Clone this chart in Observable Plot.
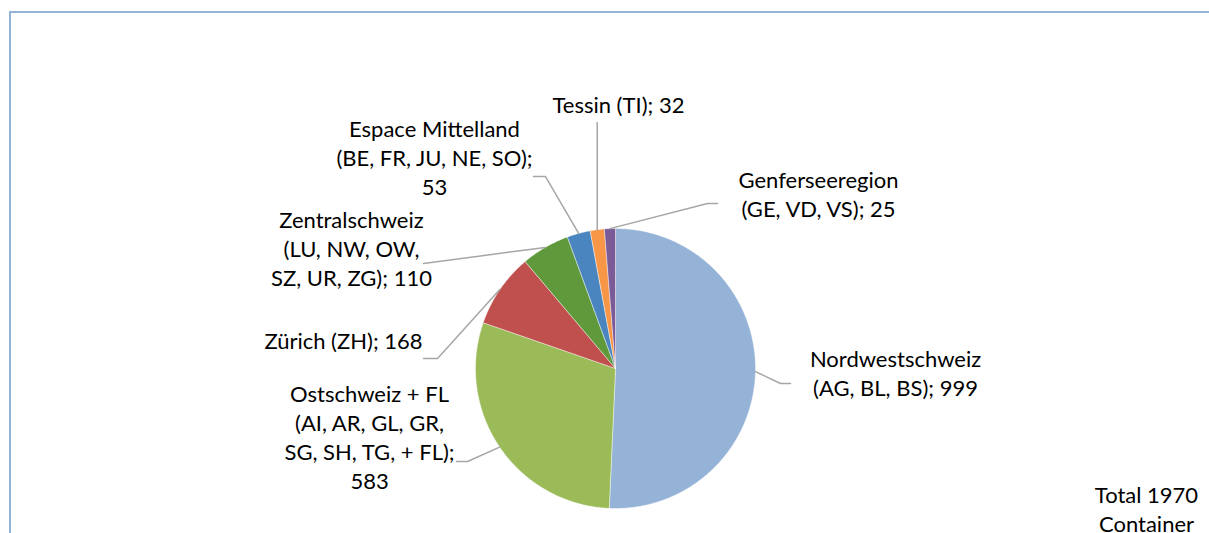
<!DOCTYPE html>
<html><head><meta charset="utf-8">
<script src="https://cdn.jsdelivr.net/npm/d3@7"></script>
<script src="https://cdn.jsdelivr.net/npm/@observablehq/plot@0.6"></script>
<style>
html,body{margin:0;padding:0;background:#fff;overflow:hidden;}
#wrap{position:relative;width:1209px;height:533px;overflow:hidden;}
#border{position:absolute;left:9px;top:11px;width:1400px;height:800px;border:2px solid #95B3D7;box-sizing:border-box;}
#chart{position:absolute;left:0;top:0;}
</style></head><body>
<div id="wrap"><div id="border"></div><div id="chart"></div></div>
<script>
// ---- data ----
const regions = [
  "Nordwestschweiz\n(AG, BL, BS)",
  "Ostschweiz + FL\n(AI, AR, GL, GR,\nSG, SH, TG, + FL)",
  "Zürich (ZH)",
  "Zentralschweiz\n(LU, NW, OW,\nSZ, UR, ZG)",
  "Espace Mittelland\n(BE, FR, JU, NE, SO)",
  "Tessin (TI)",
  "Genferseeregion\n(GE, VD, VS)"
];
const containers = [999, 583, 168, 110, 53, 32, 25];
const colors = ["#95B3D7", "#9BBB59", "#C0504D", "#5F993C", "#4A85BF", "#F79646", "#7A5B98"];
const totalWords = ["Total", "Container"];

// ---- layout (pie radius units, y up) ----
const valueSep = [" ", "\n", " ", " ", "\n", " ", " "];
const labelAt = [[2.0,-0.025],[-1.757,-0.482],[-1.943,0.205],[-1.886,0.862],[-1.293,1.512],[0.021,1.89],[1.45,1.255]];
const elbows = [
  [[1.179,-0.107],[1.25,-0.107]],
  [[-1.057,-0.664],[-1.136,-0.664]],
  [[-1.271,0.071],[-1.371,0.071]],
  [[-1.371,0.75]],
  [[-0.5,1.371],[-0.586,1.371]],
  [[null,1.757]],
  [[0.657,1.179],[0.729,1.179]]
];
const W = 1209, H = 533, R = 140, CX = 615, CY = 368;

const arcs = d3.pie().sort(null).startAngle(0).endAngle(2*Math.PI)(containers);
const slices = arcs.map((a, i) => {
  const pts = [{x:0, y:0}];
  const n = Math.max(2, Math.ceil((a.endAngle - a.startAngle) / (Math.PI/360)));
  for (let k = 0; k <= n; k++) {
    const t = a.startAngle + (a.endAngle - a.startAngle) * k / n;
    pts.push({x: Math.sin(t), y: Math.cos(t)});
  }
  pts.push({x:0, y:0});
  return {pts, color: colors[i]};
});

const leaders = [];
arcs.forEach((a, i) => {
  const m = (a.startAngle + a.endAngle) / 2;
  const ex = Math.sin(m), ey = Math.cos(m);
  leaders.push({i, x: ex, y: ey});
  elbows[i].forEach(([px, py]) => leaders.push({i, x: px == null ? ex : px, y: py}));
});

const labels = regions.map((r, i) => ({
  text: `${r};${valueSep[i]}${containers[i]}`,
  x: labelAt[i][0], y: labelAt[i][1]
}));

const total = d3.sum(containers);

const chart = Plot.plot({
  width: W, height: H,
  margin: 0,
  x: {domain: [-CX/R, (W-CX)/R], axis: null},
  y: {domain: [-(H-CY)/R, CY/R], axis: null},
  style: {fontFamily: "Lato, sans-serif", background: "transparent"},
  marks: [
    ...slices.map(s => Plot.line(s.pts, {x: "x", y: "y", fill: s.color, stroke: "#ffffff", strokeWidth: 0.6, strokeOpacity: 0.7, curve: "linear"})),
    Plot.line(leaders, {x: "x", y: "y", z: "i", stroke: "#A6A6A6", strokeWidth: 1.5}),
    Plot.text(labels, {x: "x", y: "y", text: "text", fontSize: 22, lineHeight: 1.32, fill: "#000", lineAnchor: "middle", textAnchor: "middle"}),
    Plot.text([`${totalWords[0]} ${total}\n${totalWords[1]}`], {frameAnchor: "bottom-right", dx: -63, dy: -25, fontSize: 22, lineHeight: 1.32, fill: "#000", lineAnchor: "middle", textAnchor: "middle"})
  ]
});
document.getElementById("chart").appendChild(chart);
</script>
</body></html>
